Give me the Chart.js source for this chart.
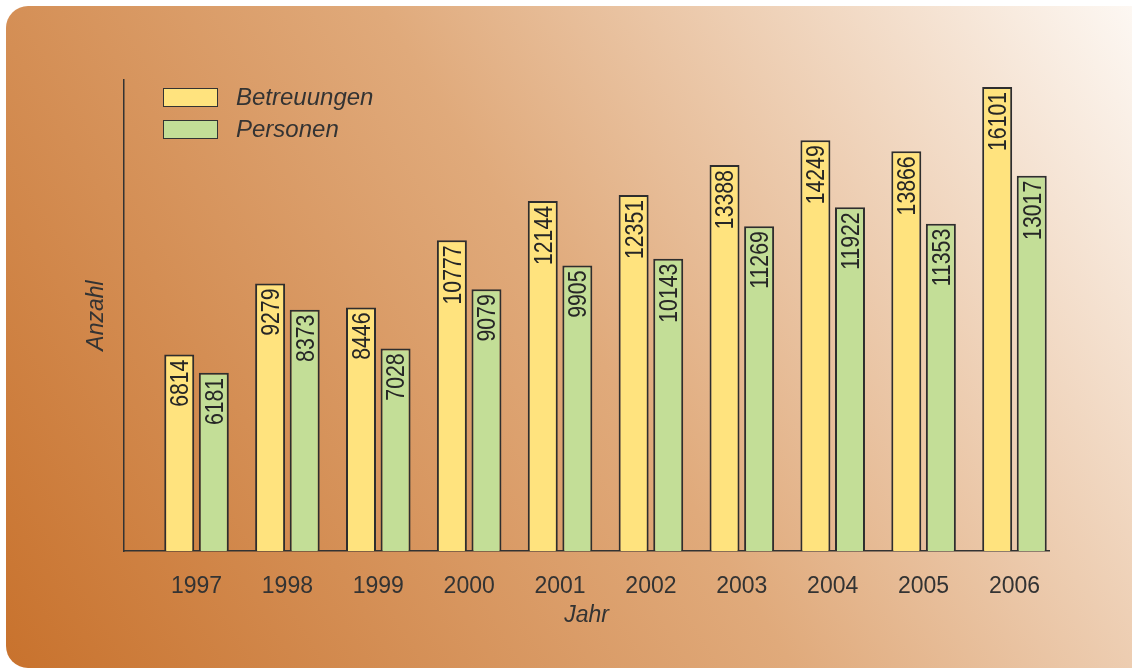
<!DOCTYPE html>
<html>
<head>
<meta charset="utf-8">
<script src="https://cdn.jsdelivr.net/npm/chart.js@4/dist/chart.umd.min.js"></script>
<style>
  html, body { margin: 0; padding: 0; background: #fff; overflow: hidden; }
  #wrap { position: relative; width: 1132px; height: 668px; overflow: hidden; }
  #card {
    position: absolute; left: 6px; top: 6px; width: 1160px; height: 662px;
    border-radius: 22px;
    background: linear-gradient(58deg, #c8722d 0%, #e0aa7b 50%, #fefbf8 100%);
  }
  canvas { position: absolute; left: 0; top: 0; }
  #legend {
    position: absolute; left: 163px; top: 87px;
    font: italic 24px "Liberation Sans", Arial, sans-serif; color: #333;
  }
  .item { display: flex; align-items: center; height: 20px; margin-bottom: 12px; }
  .box { width: 53px; height: 17px; border: 1.5px solid #333; margin-right: 18px; }
</style>
</head>
<body>
<div id="wrap">
  <div id="card"></div>
  <canvas id="chart" width="1132" height="668"></canvas>
  <div id="legend"></div>
</div>
<script>
const years = [1997, 1998, 1999, 2000, 2001, 2002, 2003, 2004, 2005, 2006];
const betreuungen = [6814, 9279, 8446, 10777, 12144, 12351, 13388, 14249, 13866, 16101];
const personen = [6181, 8373, 7028, 9079, 9905, 10143, 11269, 11922, 11353, 13017];
const seriesNames = ["Betreuungen", "Personen"];
const seriesColors = ["#ffe37e", "#c3de97"];

const yMax = 16340;
const xMin = 1996.202;
const xMax = 2006.38;

const textFont = '"Liberation Sans", Arial, sans-serif';

// value written upright inside the top of every bar
const barLabels = {
  id: "barLabels",
  afterDatasetsDraw(chart) {
    const ctx = chart.ctx;
    chart.data.datasets.forEach((ds, i) => {
      const meta = chart.getDatasetMeta(i);
      meta.data.forEach((bar, j) => {
        ctx.save();
        ctx.translate(bar.x, bar.y + 5);
        ctx.rotate(-Math.PI / 2);
        ctx.scale(0.85, 1);
        ctx.font = "25px " + textFont;
        ctx.fillStyle = "#262626";
        ctx.textAlign = "right";
        ctx.textBaseline = "middle";
        ctx.fillText(String(ds.data[j].y), 0, 2);
        ctx.restore();
      });
    });
  },
};

function toPoints(values) {
  return years.map((x, i) => ({ x: x, y: values[i] }));
}

const chart = new Chart(document.getElementById("chart").getContext("2d"), {
  type: "bar",
  data: {
    datasets: [
      {
        label: seriesNames[0],
        data: toPoints(betreuungen),
        backgroundColor: seriesColors[0],
        borderColor: "#2e2e2e",
        borderWidth: 2,
      },
      {
        label: seriesNames[1],
        data: toPoints(personen),
        backgroundColor: seriesColors[1],
        borderColor: "#2e2e2e",
        borderWidth: 2,
      },
    ],
  },
  options: {
    animation: false,
    responsive: false,
    layout: { padding: { top: 80, right: 83, bottom: 0, left: 0 } },
    datasets: { bar: { categoryPercentage: 0.761, barPercentage: 0.867 } },
    plugins: {
      legend: { display: false },
      tooltip: { enabled: false },
    },
    scales: {
      x: {
        type: "linear",
        offset: false,
        min: xMin,
        max: xMax,
        grid: { display: false, drawTicks: false, offset: false },
        border: { display: true, color: "#333", width: 1.5 },
        ticks: {
          stepSize: 1,
          includeBounds: false,
          maxRotation: 0,
          padding: 22,
          color: "#333",
          font: { family: textFont, size: 23 },
          callback: (v) => String(v),
        },
        title: {
          display: true,
          text: "Jahr",
          color: "#333",
          font: { family: textFont, size: 23, style: "italic" },
          padding: { top: 0, bottom: 39 },
        },
        afterFit: (s) => { s.height = 117; },
      },
      y: {
        min: 0,
        max: yMax,
        grid: { display: false, drawTicks: false },
        border: { display: true, color: "#333", width: 1.5 },
        ticks: { display: false },
        title: {
          display: true,
          text: "Anzahl",
          color: "#333",
          font: { family: textFont, size: 23, style: "italic" },
          padding: { top: 83, bottom: 0 },
        },
        afterFit: (s) => { s.width = 124; },
      },
    },
  },
  plugins: [barLabels],
});

// legend built from the chart's datasets
const legend = document.getElementById("legend");
chart.data.datasets.forEach((ds) => {
  const item = document.createElement("div");
  item.className = "item";
  item.innerHTML = `<span class="box" style="background:${ds.backgroundColor}"></span><span>${ds.label}</span>`;
  legend.appendChild(item);
});
</script>
</body>
</html>
